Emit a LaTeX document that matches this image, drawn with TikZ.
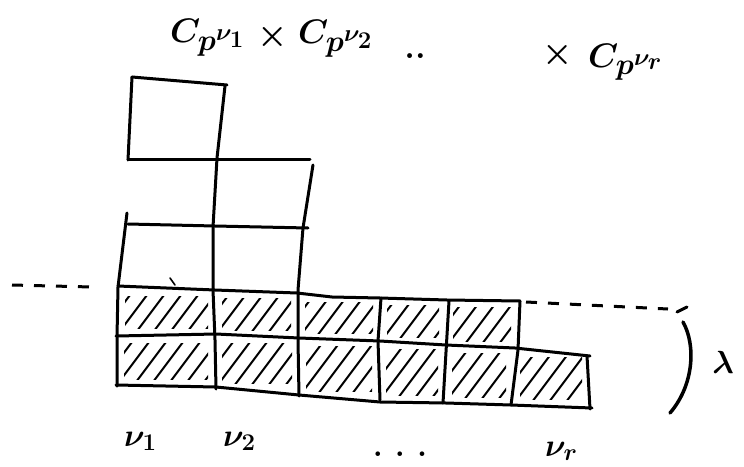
\RequirePackage{fix-cm}
\documentclass[tikz,border=0pt]{standalone}
\DeclareMathSizes{34}{34}{30}{24}
\DeclareMathSizes{32}{32}{24}{18}
\tikzset{
  gridline/.style={line width=3pt, line cap=round, line join=round},
  hatch/.style={line width=2pt, line cap=round},
  dashline/.style={line width=3pt, dash pattern=on 11pt off 11pt},
  title/.style={font=\fontsize{34}{40}\selectfont\boldmath, inner sep=0pt},
  lab/.style={font=\fontsize{32}{38}\selectfont\boldmath\bfseries, inner sep=0pt},
}
\newcommand\hatchbox[5]{%
  \begin{scope}
    \clip (#1+7,#2+7) rectangle (#3-7,#4-7);
    \foreach \hh in {0,...,10}{
      \draw[hatch] ({#1-35+\hh*#5},#4) -- ({#1-35+\hh*#5+0.75*(#4-#2)},#2);
    }
  \end{scope}}
\begin{document}
\begin{tikzpicture}[x=1pt,y=-1pt]
\useasboundingbox (0,0) rectangle (744,466);

% title
\node[title, anchor=base west] (t1) at (170,42) {$C_{p^{\nu_1}}$};
\node[title] (x1) at (273,37) {$\times$};
\node[title, anchor=base west] (t2) at (298,43) {$C_{p^{\nu_2}}$};
\node[title, anchor=base] (d1) at (415,58) {\bfseries ..};
\node[title] (x2) at (558,55) {$\times$};
\node[title, anchor=base west] (t3) at (588,67) {$C_{p^{\nu_r}}$};

% hatching
\hatchbox{118}{289}{215}{335}{17}
\hatchbox{215}{291}{298}{337}{17}
\hatchbox{298}{295}{380}{340}{17}
\hatchbox{380}{298}{446}{344}{17}
\hatchbox{446}{300}{518}{348}{17}
\hatchbox{117}{336}{215}{386}{17}
\hatchbox{215}{336}{299}{390}{17}
\hatchbox{299}{339}{379}{398}{17}
\hatchbox{379}{342}{445}{402}{17}
\hatchbox{445}{346}{513}{404}{17}
\hatchbox{513}{350}{589}{406}{17}

% grid
\draw[gridline] (132,77) -- (227,85);
\draw[gridline] (132,77) -- (128,160);
\draw[gridline] (128,159) -- (310,159);
\draw[gridline] (225,86) -- (217,158) -- (213,227) -- (213,290) -- (215,340) -- (216,389);
\draw[gridline] (313,165) -- (303,228) -- (298,290) -- (298,340) -- (299,396);
\draw[gridline] (128,224) -- (215,226) -- (308,228);
\draw[gridline] (127,213) -- (118,287) -- (117,337) -- (117,386);
\draw[line width=1.6pt, line cap=round] (170,278) -- (175,285);
\draw[gridline] (118,286) -- (215,290) -- (297,293) -- (332,297) -- (380,298) -- (447,300) -- (520,301);
\draw[gridline] (116,336) -- (216,334) -- (299,338) -- (380,341) -- (446,345) -- (515,348) -- (590,356);
\draw[gridline] (116,385) -- (216,387) -- (299,395) -- (380,402) -- (446,403) -- (511,405) -- (592,408);
\draw[gridline] (381,298) -- (378,341) -- (380,400);
\draw[gridline] (449,301) -- (443,403);
\draw[gridline] (520,301) -- (518,350) -- (511,405);
\draw[gridline] (587,356) -- (590,409);

% dashed lines
\draw[dashline] (12,285) -- (92,287);
\draw[dashline] (526,302) -- (668,309);
\draw[gridline] (677,312) -- (687,307);

% bracket and lambda
\draw[line width=3.5pt, line cap=round] (683,322) .. controls (696,345) and (694,385) .. (670,413);
\node[lab] (lam) at (723,362) {$\lambda$};

% bottom labels
\node[lab, anchor=base west] (n1) at (124,446) {$\nu_1$};
\node[lab, anchor=base west] (n2) at (223,446) {$\nu_2$};
\node[lab, anchor=base] (d2) at (400,456) {.\ .\ .};
\node[lab, anchor=base west] (nr) at (545,456) {$\nu_r$};
\end{tikzpicture}
\end{document}
